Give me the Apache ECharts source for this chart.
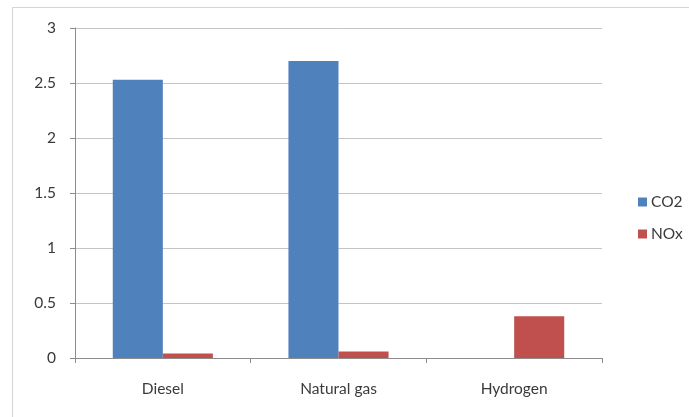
<!DOCTYPE html>
<html><head><meta charset="utf-8">
<script src="https://cdn.jsdelivr.net/npm/echarts@6/dist/echarts.min.js"></script>
<style>html,body{margin:0;padding:0;background:#fff}#c{width:689px;height:417px}</style>
</head><body><div id="c"></div>
<script>
const categories = ['Diesel', 'Natural gas', 'Hydrogen'];
const co2 = [2.53, 2.70, null];
const nox = [0.04, 0.06, 0.38];
const seriesNames = ['CO2', 'NOx'];

const chart = echarts.init(document.getElementById('c'));
const font = 'Lato, "Open Sans", sans-serif';
const txt = '#3a3a3a';
chart.setOption({
  animation: false,
  textStyle: { fontFamily: font },
  graphic: [{ type: 'rect', shape: { x: 12.5, y: 7.5, width: 700, height: 420 }, style: { fill: 'none', stroke: '#d4d4d4', lineWidth: 1 } }],
  grid: { left: 75, right: 87, top: 28, bottom: 59 },
  legend: {
    orient: 'vertical', left: 633, top: 189, itemGap: 16,
    itemWidth: 9, itemHeight: 9, icon: 'rect',
    textStyle: { fontSize: 15.5, color: txt, fontFamily: font, padding: [0, 0, 0, -1] },
    data: seriesNames
  },
  xAxis: {
    type: 'category', data: categories,
    axisLine: { lineStyle: { color: '#8c8c8c' } },
    axisTick: { show: true, length: 5, lineStyle: { color: '#8c8c8c' } },
    axisLabel: { margin: 23, fontSize: 15.5, color: txt, fontFamily: font }
  },
  yAxis: {
    type: 'value', min: 0, max: 3, interval: 0.5,
    axisLine: { show: true, lineStyle: { color: '#8c8c8c' } },
    axisTick: { show: true, length: 5, lineStyle: { color: '#8c8c8c' } },
    splitLine: { lineStyle: { color: '#c4c4c4' } },
    axisLabel: { margin: 19, fontSize: 15.5, color: txt, fontFamily: font }
  },
  series: [
    { name: seriesNames[0], type: 'bar', data: co2, barGap: '0%', barCategoryGap: '43%', itemStyle: { color: '#4F81BD' } },
    { name: seriesNames[1], type: 'bar', data: nox, barGap: '0%', barCategoryGap: '43%', itemStyle: { color: '#C0504D' } }
  ]
});
</script></body></html>
